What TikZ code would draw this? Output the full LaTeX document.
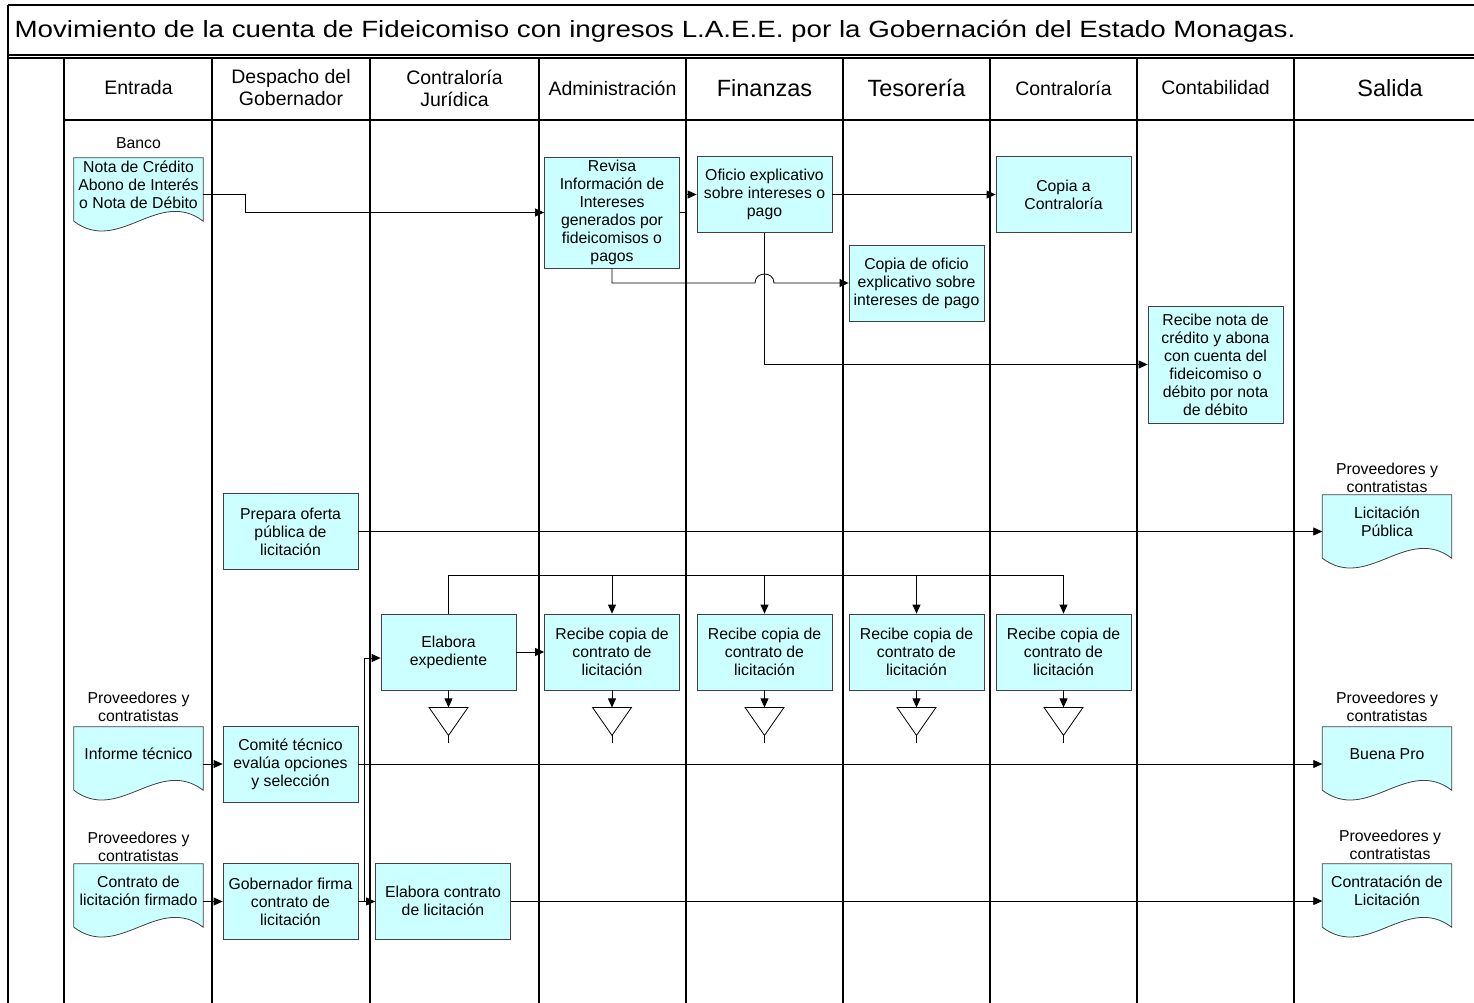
\documentclass[tikz,border=0pt]{standalone}
\usepackage{fontspec}
\setmainfont{Liberation Sans}
\newfontfamily\titlefont[FakeStretch=1.18]{Liberation Sans}
\usepackage{tikz}
\usetikzlibrary{arrows.meta,calc,backgrounds}
\definecolor{boxcyan}{HTML}{CCFFFF}
\definecolor{boxline}{HTML}{404040}
\newcommand{\bodyfont}{\fontsize{15.8}{18}\selectfont}
\newcommand{\hdrfont}{\fontsize{19.5}{22}\selectfont}
\newcommand{\bighdrfont}{\fontsize{23.5}{26}\selectfont}
\tikzset{
  lane/.style={draw=black, line width=1.2pt},
  procbox/.style={draw=boxline, fill=boxcyan, line width=0.8pt, minimum width=135pt,
    minimum height=76pt, inner sep=0pt, align=center, font=\bodyfont},
  docnode/.style={minimum width=129pt, minimum height=54pt, inner sep=0pt, align=center, font=\bodyfont},
  docbox/.style={draw=boxline, fill=boxcyan, line width=0.8pt},
  flow/.style={draw=black, line width=0.8pt, -{Triangle[length=9pt,width=8pt]}},
  wire/.style={draw=black, line width=0.8pt},
  hdr/.style={font=\hdrfont, align=center},
  bighdr/.style={font=\bighdrfont, align=center},
  note/.style={font=\bodyfont, align=center},
  tri/.style={draw=black, line width=0.8pt, fill=white},
}

\begin{document}
\begin{tikzpicture}[x=1pt, y=-1pt]
    \useasboundingbox (0,0) rectangle (1474,1003);

    % marco y carriles
    \draw[lane] (8,5) -- (1480,5);
    \draw[lane] (8,55) -- (1480,55);
    \draw[lane] (8,58) -- (1480,58);
    \draw[lane] (64,120) -- (1480,120);
    \draw[lane] (8,5) -- (8,1010);
    \foreach \x in {64,212,370,539,686,843,990,1137,1294}
        \draw[lane] (\x,58) -- (\x,1010);

    \node[anchor=west, font=\titlefont\fontsize{23.5}{28}\selectfont] (title) at (11,31)
        {Movimiento de la cuenta de Fideicomiso con ingresos L.A.E.E. por la Gobernación del Estado Monagas.};

    % encabezados
    \node[hdr] (hEntrada) at (138.5,88) {Entrada};
    \node[hdr] (hDespacho) at (291,88) {Despacho del\\Gobernador};
    \node[hdr] (hJuridica) at (454.5,88) {Contraloría\\Jurídica};
    \node[hdr] (hAdmin) at (612.5,88) {Administración};
    \node[bighdr] (hFinanzas) at (764.5,88) {Finanzas};
    \node[bighdr] (hTesoreria) at (916.5,88) {Tesorería};
    \node[hdr] (hContraloria) at (1063.5,88) {Contraloría};
    \node[hdr] (hContabilidad) at (1215.5,88) {Contabilidad};
    \node[bighdr] (hSalida) at (1390,88) {Salida};

    % documentos
    \node[note] (banco) at (138.5,143) {Banco};
    \node[docnode] (nota) at (138.5,185) {Nota de Crédito\\Abono de Interés\\o Nota de Débito};
    \node[note] (provA) at (138.5,707) {Proveedores y\\contratistas};
    \node[docnode] (informe) at (138.5,754) {Informe técnico};
    \node[note] (provB) at (138.5,847) {Proveedores y\\contratistas};
    \node[docnode] (firmado) at (138.5,891) {Contrato de\\licitación firmado};
    \node[note] (provC) at (1387,478) {Proveedores y\\contratistas};
    \node[docnode] (licpub) at (1387,522) {Licitación\\Pública};
    \node[note] (provD) at (1387,707) {Proveedores y\\contratistas};
    \node[docnode] (buenapro) at (1387,754) {Buena Pro};
    \node[note] (provE) at (1390,845) {Proveedores y\\contratistas};
    \node[docnode] (contratacion) at (1387,891) {Contratación de\\Licitación};

    \begin{scope}[on background layer]
        \foreach \d in {nota,informe,firmado,licpub,buenapro,contratacion}{
            \path ([yshift=-9pt]\d.south east) coordinate (dr)
                  ([yshift=-9pt]\d.south west) coordinate (dl);
            \draw[docbox] (\d.north west) -- (\d.north east) -- (dr)
                .. controls ($(dr)+(-45,-34)$) and ($(dl)+(45,34)$) .. (dl) -- cycle;
        }
    \end{scope}

    % procesos
    \node[procbox, minimum height=111pt] (revisa) at (612,212.5)
        {Revisa\\Información de\\Intereses\\generados por\\fideicomisos o\\pagos};
    \node[procbox] (oficio) at (764.5,194.5) {Oficio explicativo\\sobre intereses o\\pago};
    \node[procbox] (copiaC) at (1063.5,194.5) {Copia a\\Contraloría};
    \node[procbox] (copiaO) at (916.5,283) {Copia de oficio\\explicativo sobre\\intereses de pago};
    \node[procbox, minimum height=117pt] (recibeN) at (1215.5,364.5)
        {Recibe nota de\\crédito y abona\\con cuenta del\\fideicomiso o\\débito por nota\\de débito};
    \node[procbox] (prepara) at (290.5,531.5) {Prepara oferta\\pública de\\licitación};
    \node[procbox] (elabExp) at (448.5,652) {Elabora\\expediente};
    \node[procbox] (rc1) at (612,652) {Recibe copia de\\contrato de\\licitación};
    \node[procbox] (rc2) at (764.5,652) {Recibe copia de\\contrato de\\licitación};
    \node[procbox] (rc3) at (916.5,652) {Recibe copia de\\contrato de\\licitación};
    \node[procbox] (rc4) at (1063.5,652) {Recibe copia de\\contrato de\\licitación};
    \node[procbox] (comite) at (290.5,764) {Comité técnico\\evalúa opciones\\y selección};
    \node[procbox] (gobfirma) at (290.5,901.5) {Gobernador firma\\contrato de\\licitación};
    \node[procbox] (elabContr) at (443,901) {Elabora contrato\\de licitación};

    % flujo
    \draw[flow] ([yshift=-9pt]nota.east) -- ++(42,0) |- (revisa.west);
    \draw[flow] (revisa.east) -- ++(6,0) |- (oficio.west);
    \draw[flow] (oficio.east) -- (copiaC.west);
    \coordinate (hop) at (oficio.south |- copiaO.west);
    \draw[flow] (revisa.south) |- ($(hop)+(-9.5,0)$)
        .. controls ($(hop)+(-9.5,-12)$) and ($(hop)+(9.5,-12)$) .. ($(hop)+(9.5,0)$)
        -- (copiaO.west);
    \draw[flow] (oficio.south) |- (recibeN.west);
    \draw[flow] (prepara.east) -- (prepara.east -| licpub.west);

    \coordinate (bus) at (448.5,575);
    \draw[flow] (elabExp.north) -- (bus) -| (rc4.north);
    \foreach \r in {rc1,rc2,rc3}
        \draw[flow] (bus -| \r.north) -- (\r.north);
    \draw[flow] (elabExp.east) -- (rc1.west);
    \foreach \b in {elabExp,rc1,rc2,rc3,rc4}{
        \coordinate (\b-t) at ($(\b.south)+(0,17)$);
        \draw[tri] ($(\b-t)+(-19.5,0)$) -- ($(\b-t)+(19.5,0)$) -- ($(\b-t)+(0,28)$) -- cycle;
        \draw[wire] ($(\b-t)+(0,28)$) -- ($(\b-t)+(0,36)$);
        \draw[flow] (\b.south) -- (\b-t);
    }

    \draw[flow] (informe.east |- comite.west) -- (comite.west);
    \draw[flow] (comite.east) -- (comite.east -| buenapro.west);
    \draw[flow] (firmado.east |- gobfirma.west) -- (gobfirma.west);
    \draw[flow] (gobfirma.east) -- (gobfirma.east -| elabContr.west);
    \draw[flow] ($(gobfirma.east)+(6,0)$) |- ([yshift=-6pt]elabExp.west);
    \draw[flow] (elabContr.east) -- (elabContr.east -| contratacion.west);
\end{tikzpicture}
\end{document}
